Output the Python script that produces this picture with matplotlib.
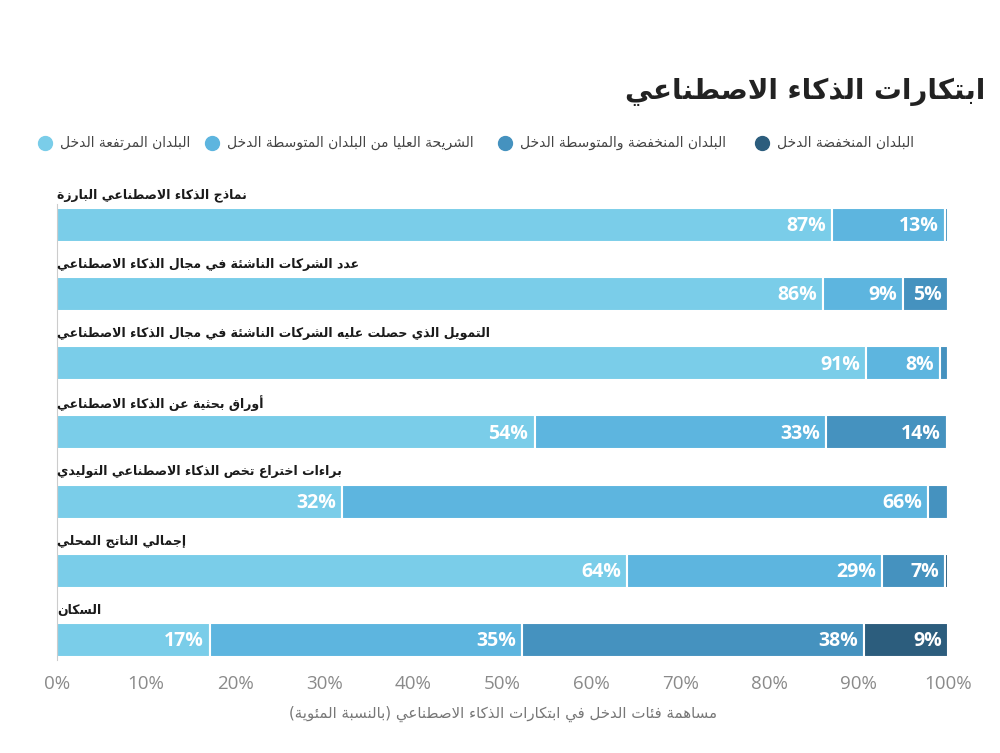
import matplotlib
matplotlib.use("Agg")
from matplotlib import pyplot as plt
from matplotlib.lines import Line2D

# ---- data -----------------------------------------------------------------
title = "ابتكارات الذكاء الاصطناعي"
x_label = "مساهمة فئات الدخل في ابتكارات الذكاء الاصطناعي (بالنسبة المئوية)"

categories = [
    "نماذج الذكاء الاصطناعي البارزة",
    "عدد الشركات الناشئة في مجال الذكاء الاصطناعي",
    "التمويل الذي حصلت عليه الشركات الناشئة في مجال الذكاء الاصطناعي",
    "أوراق بحثية عن الذكاء الاصطناعي",
    "براءات اختراع تخص الذكاء الاصطناعي التوليدي",
    "إجمالي الناتج المحلي",
    "السكان",
]

groups = [
    "البلدان المرتفعة الدخل",
    "الشريحة العليا من البلدان المتوسطة الدخل",
    "البلدان المنخفضة والمتوسطة الدخل",
    "البلدان المنخفضة الدخل",
]

high_income = [87.0, 86.0, 90.8, 53.6, 32.0, 64.0, 17.2]
upper_middle = [12.7, 9.0, 8.3, 32.7, 65.8, 28.6, 35.0]
lower_middle = [0.3, 5.0, 0.9, 13.6, 2.2, 7.1, 38.4]
low_income = [0.0, 0.0, 0.0, 0.1, 0.0, 0.3, 9.4]

colors = ["#7acde9", "#5db5df", "#4592bf", "#2c5d7d"]
x_ticks = [0, 10, 20, 30, 40, 50, 60, 70, 80, 90, 100]

# ---- arabic shaping (matplotlib draws glyphs left to right, unjoined) ------
FORMS = {}
_seq = [
    ("ء", 0xFE80, 1), ("آ", 0xFE81, 2), ("أ", 0xFE83, 2), ("ؤ", 0xFE85, 2),
    ("إ", 0xFE87, 2), ("ئ", 0xFE89, 4), ("ا", 0xFE8D, 2), ("ب", 0xFE8F, 4),
    ("ة", 0xFE93, 2), ("ت", 0xFE95, 4), ("ث", 0xFE99, 4), ("ج", 0xFE9D, 4),
    ("ح", 0xFEA1, 4), ("خ", 0xFEA5, 4), ("د", 0xFEA9, 2), ("ذ", 0xFEAB, 2),
    ("ر", 0xFEAD, 2), ("ز", 0xFEAF, 2), ("س", 0xFEB1, 4), ("ش", 0xFEB5, 4),
    ("ص", 0xFEB9, 4), ("ض", 0xFEBD, 4), ("ط", 0xFEC1, 4), ("ظ", 0xFEC5, 4),
    ("ع", 0xFEC9, 4), ("غ", 0xFECD, 4), ("ف", 0xFED1, 4), ("ق", 0xFED5, 4),
    ("ك", 0xFED9, 4), ("ل", 0xFEDD, 4), ("م", 0xFEE1, 4), ("ن", 0xFEE5, 4),
    ("ه", 0xFEE9, 4), ("و", 0xFEED, 2), ("ى", 0xFEEF, 2), ("ي", 0xFEF1, 4),
]
for ch, base, n in _seq:
    FORMS[ch] = (base, n)
LAM_ALEF = {"آ": 0xFEF5, "أ": 0xFEF7, "إ": 0xFEF9, "ا": 0xFEFB}


def shape(text):
    # merge lam + alef into ligature tokens first
    tokens = []
    i = 0
    while i < len(text):
        c = text[i]
        if c == "ل" and i + 1 < len(text) and text[i + 1] in LAM_ALEF:
            tokens.append(("LA", LAM_ALEF[text[i + 1]]))
            i += 2
        else:
            tokens.append(("C", c))
            i += 1

    def joins_left(tok):  # can connect to the following letter
        if tok is None:
            return False
        kind, v = tok
        return kind == "C" and v in FORMS and FORMS[v][1] == 4

    def joins_right(tok):  # can connect to the preceding letter
        if tok is None:
            return False
        kind, v = tok
        if kind == "LA":
            return True
        return v in FORMS and FORMS[v][1] > 1

    out = []
    for k, tok in enumerate(tokens):
        prev = tokens[k - 1] if k > 0 else None
        nxt = tokens[k + 1] if k + 1 < len(tokens) else None
        kind, v = tok
        con_prev = joins_left(prev) and joins_right(tok)
        if kind == "LA":
            out.append(chr(v + (1 if con_prev else 0)))
            continue
        if v not in FORMS:
            out.append(v)
            continue
        base, n = FORMS[v]
        con_next = n == 4 and joins_right(nxt)
        if n == 1:
            out.append(chr(base))
        elif con_prev and con_next:
            out.append(chr(base + 3))
        elif con_next:
            out.append(chr(base + 2))
        elif con_prev:
            out.append(chr(base + 1))
        else:
            out.append(chr(base))
    vis = "".join(reversed(out))
    return vis.translate(str.maketrans("()", ")("))


# ---- plot -----------------------------------------------------------------
plt.rcParams["font.family"] = ["DejaVu Sans"]

fig = plt.figure(figsize=(10, 7.53), dpi=100)
ax = fig.add_axes([0.057, 0.1235, 0.891, 0.627])

series = [high_income, upper_middle, lower_middle, low_income]
rows = list(range(len(categories)))
left = [0.0] * len(categories)
for s, vals in enumerate(series):
    ax.barh(rows, vals, left=left, height=0.49, color=colors[s],
            edgecolor="white", linewidth=1.5)
    for r, v in enumerate(vals):
        if v >= 4.5:
            ax.text(left[r] + v - 0.7, r + 0.02, f"{v:.0f}%", ha="right",
                    va="center", color="white", fontsize=14,
                    fontweight="bold", family=["Open Sans", "DejaVu Sans"])
    left = [a + b for a, b in zip(left, vals)]

for r, name in enumerate(categories):
    ax.text(0, r - 0.43, shape(name), ha="left", va="center", fontsize=9,
            fontweight="bold", color="#1a1a1a")

ax.set_xlim(0, 100)
ax.set_ylim(6.29, -0.535)
ax.set_yticks([])
ax.set_xticks(x_ticks)
ax.set_xticklabels([f"{t}%" for t in x_ticks], color="#8a8a8a", fontsize=13.5,
                   family=["Open Sans", "DejaVu Sans"])
ax.tick_params(axis="x", length=0, pad=11)
for side in ["top", "right", "bottom"]:
    ax.spines[side].set_visible(False)
ax.spines["left"].set_color("#cccccc")
ax.spines["left"].set_bounds(6.29, -0.3)

ax.set_xlabel(shape(x_label), color="#777777", fontsize=10.8, labelpad=9)

fig.text(0.985, 0.878, shape(title), ha="right", va="center", fontsize=20,
         fontweight="bold", color="#222222")

# legend: circle left of each label, items laid out from the right
legend_x_circle = [0.045, 0.212, 0.505, 0.762]
legend_x_text = [0.060, 0.227, 0.520, 0.777]
for g in range(len(groups)):
    fig.add_artist(Line2D([legend_x_circle[g]], [0.81], marker="o",
                          markersize=10, color=colors[g], linestyle="none",
                          transform=fig.transFigure))
    fig.text(legend_x_text[g], 0.81, shape(groups[g]), ha="left",
             va="center", fontsize=10, color="#444444")

fig.savefig("out.png", dpi=100)
